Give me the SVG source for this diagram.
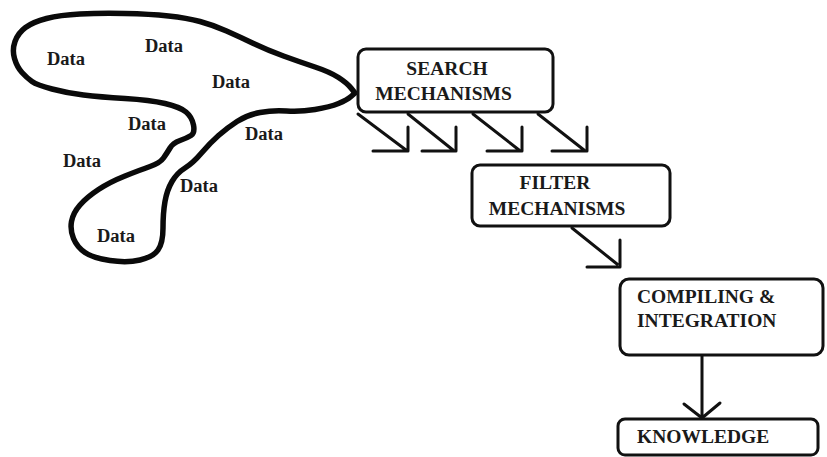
<svg xmlns="http://www.w3.org/2000/svg" width="827" height="457" viewBox="0 0 827 457">
<style>
.box{fill:#fff;stroke:#111;stroke-width:3}
.t{font-family:"Liberation Serif","Times New Roman",serif;font-weight:bold;font-size:19.5px;fill:#1a1a1a}
.d{font-family:"Liberation Serif","Times New Roman",serif;font-weight:bold;font-size:18.5px;fill:#1a1a1a}
.c{fill:none;stroke:#111;stroke-width:3;stroke-linecap:round;stroke-linejoin:round}
.blob{fill:none;stroke:#0a0a0a;stroke-width:5.5;stroke-linejoin:round;stroke-linecap:round}
</style>
<rect width="827" height="457" fill="#fff"/>
<g id="data-cloud">
<path class="blob" d="M15,41.5 Q18,33 25.5,27.5 Q33,22 46.5,18.5 Q60,15 80,14 Q100,13 125,13.5 Q150,14 168.5,16 Q187,18 200,21.5 Q213,25 226.5,31 Q240,37 253.5,43.5 Q267,50 283.5,56 Q300,62 315,67 Q330,72 338.5,77.5 Q347,83 351,88 L355,93 L351,96.5 Q347,100 338.5,103.5 Q330,107 315,109.5 Q300,112 286.5,111 Q273,110 260,112.5 Q247,115 237,121.5 Q227,128 218.5,135.5 Q210,143 201.5,153 Q193,163 185,168 Q177,173 172,181.5 Q167,190 165,201.5 Q163,213 163,228 Q163,243 158,250 Q153,257 140,260 Q127,263 110,260.5 Q93,258 85,252.5 Q77,247 73.5,238.5 Q70,230 71.5,221.5 Q73,213 80,205 Q87,197 98.5,189.5 Q110,182 125,176 Q140,170 150,166.5 Q160,163 163.5,158 Q167,153 170,148 Q173,143 180,140.5 Q187,138 191,135.5 Q195,133 193.5,125 Q192,117 186,112 Q180,107 165,103.5 Q150,100 125,98.5 Q100,97 83.5,95 Q67,93 52,89 Q37,85 32,81.5 Q27,78 22,72.5 Q17,67 14.5,58.5 Q12,50 15,41.5 Z"/>
<text class="d" x="47" y="65">Data</text>
<text class="d" x="145" y="52">Data</text>
<text class="d" x="212" y="88">Data</text>
<text class="d" x="128" y="130">Data</text>
<text class="d" x="63" y="167">Data</text>
<text class="d" x="245" y="140">Data</text>
<text class="d" x="180" y="192">Data</text>
<text class="d" x="97" y="242">Data</text>
</g>
<g id="search">
<rect class="box" x="358" y="49" width="195" height="63" rx="8"/>
<text class="t" x="447" y="75" text-anchor="middle">SEARCH</text>
<text class="t" x="443.5" y="100" text-anchor="middle">MECHANISMS</text>
</g>
<g id="filter">
<rect class="box" x="472" y="165" width="198" height="61" rx="8"/>
<text class="t" x="555" y="189" text-anchor="middle">FILTER</text>
<text class="t" x="557" y="215" text-anchor="middle">MECHANISMS</text>
</g>
<g id="compiling">
<rect class="box" x="620" y="279" width="203" height="76" rx="9"/>
<text class="t" x="637" y="303">COMPILING &amp;</text>
<text class="t" x="637" y="327">INTEGRATION</text>
</g>
<g id="knowledge">
<rect class="box" x="618" y="419" width="200" height="36" rx="7"/>
<text class="t" x="637" y="443">KNOWLEDGE</text>
</g>
<g id="connectors">
<path class="c" d="M358,114 L406,150 M408,127 L408,151 L373,151"/>
<path class="c" d="M408,114 L453,150 M456,127 L456,151 L422,151"/>
<path class="c" d="M473,114 L519,150 M522,127 L522,151 L487,151"/>
<path class="c" d="M538,114 L584,150 M587,127 L587,151 L552,151"/>
<path class="c" d="M572,228 L617,264 M620,240 L620,267 L587,267"/>
<path class="c" d="M702,356 L702,418 M684,404 L702,418 L720,403"/>
</g>
</svg>
